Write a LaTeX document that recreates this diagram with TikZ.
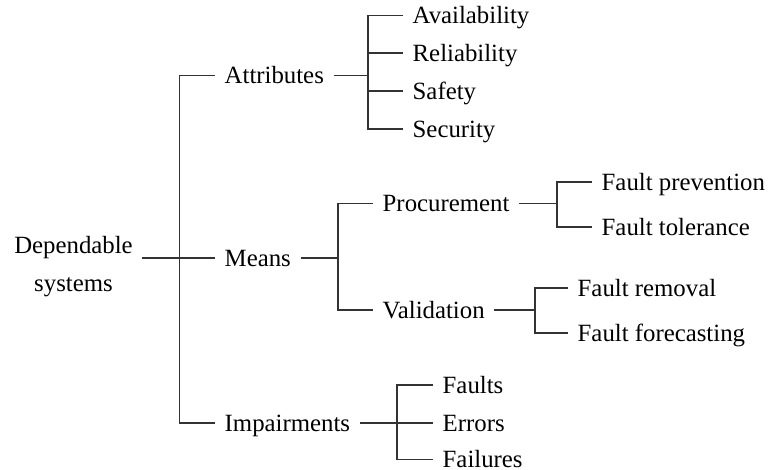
\documentclass[tikz,border=0pt]{standalone}
\usepackage{fontspec}
\setmainfont{Liberation Serif}
\begin{document}
\begin{tikzpicture}[x=1pt,y=-1pt,
  lbl/.style={inner xsep=9.5pt,inner ysep=0pt,text height=16.3pt,text depth=0pt,anchor=west,font=\fontsize{24.8pt}{38pt}\selectfont},
  conn/.style={line width=1.3pt,draw=black!80}]
\useasboundingbox (0,0) rectangle (770,470);
% bus coordinates
\coordinate (b0) at (179.5,0);
\coordinate (bA) at (368,0);
\coordinate (bM) at (338,0);
\coordinate (bP) at (557,0);
\coordinate (bV) at (535,0);
\coordinate (bI) at (397,0);
% nodes
\node[inner xsep=9pt,inner ysep=0pt,align=center,font=\fontsize{24.8pt}{38pt}\selectfont] (dep) at (73.5,266.5) {Dependable\\systems};
\node[lbl] (attr) at (215,75.5) {Attributes};
\node[lbl] (means) at (215,258) {Means};
\node[lbl] (imp) at (215,423) {Impairments};
\node[lbl] (avail) at (403,15.5) {Availability};
\node[lbl] (rel) at (403,53) {Reliability};
\node[lbl] (safe) at (403,91) {Safety};
\node[lbl] (secur) at (403,129) {Security};
\node[lbl] (proc) at (373,203.5) {Procurement};
\node[lbl] (valid) at (373,310) {Validation};
\node[lbl] (fp) at (592,182) {Fault prevention};
\node[lbl] (ft) at (592,227) {Fault tolerance};
\node[lbl] (fr) at (568,288) {Fault removal};
\node[lbl] (ff) at (568,333) {Fault forecasting};
\node[lbl] (faults) at (433,385) {Faults};
\node[lbl] (errors) at (433,423) {Errors};
\node[lbl] (fail) at (433,459.5) {Failures};
% connectors
\draw[conn] (dep.east |- means.west) -- (means.west);
\draw[conn] (attr.west) -| (b0 |- imp.west) -- (imp.west);
\draw[conn] (attr.east) -- (bA |- attr.east);
\draw[conn] (avail.west) -| (bA |- secur.west) -- (secur.west);
\draw[conn] (bA |- rel.west) -- (rel.west);
\draw[conn] (bA |- safe.west) -- (safe.west);
\draw[conn] (means.east) -- (bM |- means.east);
\draw[conn] (proc.west) -| (bM |- valid.west) -- (valid.west);
\draw[conn] (proc.east) -- (bP |- proc.east);
\draw[conn] (fp.west) -| (bP |- ft.west) -- (ft.west);
\draw[conn] (valid.east) -- (bV |- valid.east);
\draw[conn] (fr.west) -| (bV |- ff.west) -- (ff.west);
\draw[conn] (imp.east) -- (errors.west);
\draw[conn] (faults.west) -| (bI |- fail.west) -- (fail.west);
\end{tikzpicture}
\end{document}
